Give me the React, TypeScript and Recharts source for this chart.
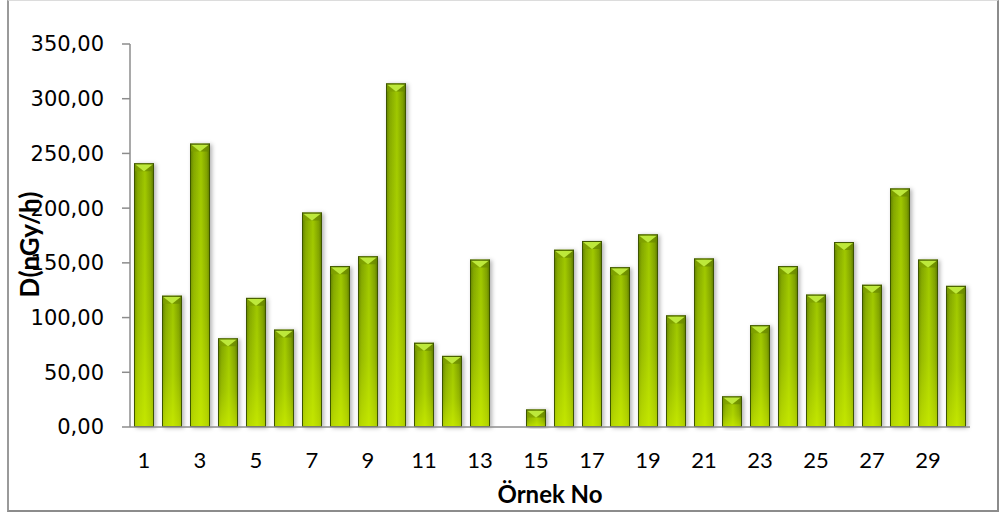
import { BarChart, Bar, XAxis, YAxis, Label } from 'recharts'

// Örnek numaraları ve ölçülen doz hızları (nGy/h); 14 numaralı örnek ölçülmedi
const samples = [
  '1', '2', '3', '4', '5', '6', '7', '8', '9', '10',
  '11', '12', '13', '14', '15', '16', '17', '18', '19', '20',
  '21', '22', '23', '24', '25', '26', '27', '28', '29', '30',
]
const doseRates: (number | null)[] = [
  241, 120, 259, 81, 118, 89, 196, 147, 156, 314,
  77, 65, 153, null, 16, 162, 170, 146, 176, 102,
  154, 28, 93, 147, 121, 169, 130, 218, 153, 129,
]
const yTicks = [0, 50, 100, 150, 200, 250, 300, 350]

const data = samples.map((no, i) => ({ no, dose: doseRates[i] }))

const formatTick = (v: number) => v.toFixed(2).replace('.', ',')

// 3B görünümlü çubuk: yatay parlaklık, üstte eğimli kapak
const BevelBar = (props: any) => {
  const { x, y, width, height } = props
  if (height == null || height <= 0) return null
  const cap = Math.min(width * 0.4, height)
  return (
    <g filter="url(#barShadow)">
      <rect x={x} y={y} width={width} height={height} fill="url(#barBody)" />
      <rect x={x} y={y} width={width} height={height} fill="url(#barGlow)" />
      <polygon
        points={`${x},${y} ${x + width / 2},${y + cap} ${x},${y + cap}`}
        fill="#7d9e08"
        opacity={0.7}
      />
      <polygon
        points={`${x + width},${y} ${x + width / 2},${y + cap} ${x + width},${y + cap}`}
        fill="#688800"
        opacity={0.7}
      />
      <polygon
        points={`${x + 1},${y + 1} ${x + width - 1},${y + 1} ${x + width / 2},${y + cap}`}
        fill="#bde83a"
      />
      <rect
        x={x + 0.5}
        y={y + 0.5}
        width={width - 1}
        height={height - 1}
        fill="none"
        stroke="#3e5400"
        strokeWidth={1}
      />
    </g>
  )
}

export default function App() {
  return (
    <div
      style={{
        position: 'fixed',
        left: 0,
        top: 0,
        width: 1000,
        height: 515,
        background: '#fff',
      }}
    >
      <BarChart
        width={1000}
        height={515}
        data={data}
        margin={{ top: 44, right: 30, bottom: 28, left: 0 }}
        barSize={20}
      >
        <defs>
          <linearGradient id="barBody" x1="0" y1="0" x2="1" y2="0">
            <stop offset="0%" stopColor="#5a7800" />
            <stop offset="18%" stopColor="#80a400" />
            <stop offset="55%" stopColor="#9ec600" />
            <stop offset="85%" stopColor="#7a9c00" />
            <stop offset="100%" stopColor="#4e6800" />
          </linearGradient>
          <linearGradient id="barGlow" x1="0" y1="0" x2="0" y2="1">
            <stop offset="0%" stopColor="#d4f500" stopOpacity={0} />
            <stop offset="60%" stopColor="#d4f500" stopOpacity={0.3} />
            <stop offset="100%" stopColor="#d8f800" stopOpacity={0.65} />
          </linearGradient>
          <filter id="barShadow" x="-40%" y="-10%" width="180%" height="120%">
            <feDropShadow dx="2" dy="1" stdDeviation="2" floodColor="#000" floodOpacity="0.3" />
          </filter>
        </defs>
        <XAxis
          dataKey="no"
          interval={1}
          tickLine={false}
          tickMargin={19}
          height={60}
          axisLine={{ stroke: '#8c8c8c', strokeWidth: 1.5 }}
          tick={{ fill: '#000', fontSize: 22, fontFamily: 'Lato' }}
        >
          <Label
            content={({ viewBox }: any) => (
              <text
                x={viewBox.x + viewBox.width / 2}
                y={viewBox.y + 66}
                textAnchor="middle"
                dominantBaseline="central"
                fontFamily="Lato"
                fontWeight="bold"
                fontSize={24}
                fill="#000"
              >
                Örnek No
              </text>
            )}
          />
        </XAxis>
        <YAxis
          width={130}
          domain={[0, 350]}
          ticks={yTicks}
          tickFormatter={formatTick}
          tickSize={8}
          tickMargin={18}
          axisLine={{ stroke: '#8c8c8c', strokeWidth: 1.5 }}
          tickLine={{ stroke: '#8c8c8c', strokeWidth: 1.5 }}
          tick={{ fill: '#000', fontSize: 21, fontFamily: 'DejaVu Sans' }}
        >
          <Label
            content={({ viewBox }: any) => {
              const cx = viewBox.x + 29
              const cy = viewBox.y + viewBox.height / 2 + 9
              return (
                <text
                  x={cx}
                  y={cy}
                  transform={`rotate(-90 ${cx} ${cy})`}
                  textAnchor="middle"
                  dominantBaseline="central"
                  fontFamily="Lato"
                  fontWeight="bold"
                  fontSize={26}
                  fill="#000"
                >
                  D(nGy/h)
                </text>
              )
            }}
          />
        </YAxis>
        <Bar dataKey="dose" shape={<BevelBar />} isAnimationActive={false} />
      </BarChart>
      <div
        style={{
          position: 'absolute',
          left: 7,
          top: 0,
          width: 988,
          height: 509,
          borderLeft: '2px solid #9a9a9a',
          borderRight: '2px solid #8c8c8c',
          borderBottom: '2px solid #8c8c8c',
          borderTop: '1px solid #dcdcdc',
          pointerEvents: 'none',
        }}
      />
    </div>
  )
}
